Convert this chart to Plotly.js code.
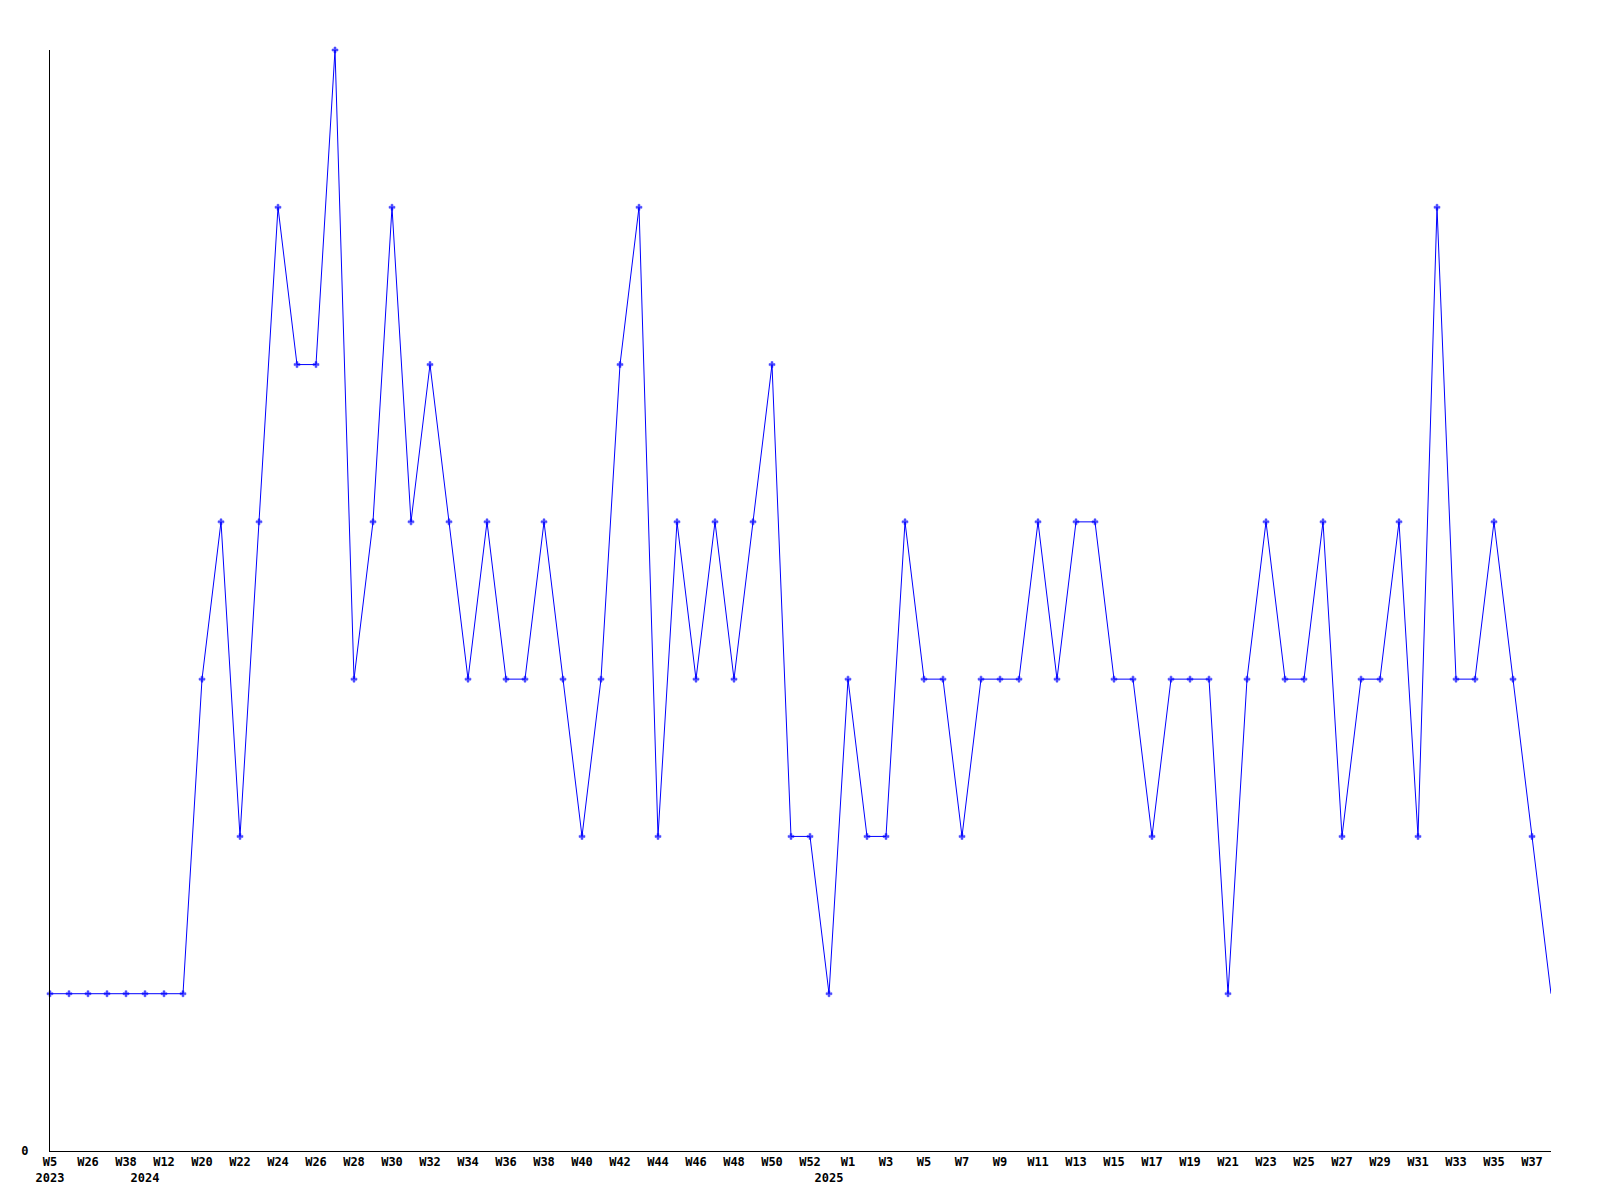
<!DOCTYPE html>
<html>
<head>
<meta charset="utf-8">
<script src="https://cdn.plot.ly/plotly-3.0.1.min.js"></script>
<style>
  html, body { margin: 0; padding: 0; background: #fff; }
  #chart { width: 1600px; height: 1200px; }
</style>
</head>
<body>
<div id="chart"></div>
<script>
// Week categories (unlabelled ones between the sparse early weeks are estimates)
const weeks = [
  '2023-W05','2023-W14','2023-W26','2023-W32','2023-W38','2024-W01','2024-W12','2024-W16',
  '2024-W20','2024-W21','2024-W22','2024-W23','2024-W24','2024-W25','2024-W26','2024-W27',
  '2024-W28','2024-W29','2024-W30','2024-W31','2024-W32','2024-W33','2024-W34','2024-W35',
  '2024-W36','2024-W37','2024-W38','2024-W39','2024-W40','2024-W41','2024-W42','2024-W43',
  '2024-W44','2024-W45','2024-W46','2024-W47','2024-W48','2024-W49','2024-W50','2024-W51',
  '2024-W52','2025-W00','2025-W01','2025-W02','2025-W03','2025-W04','2025-W05','2025-W06',
  '2025-W07','2025-W08','2025-W09','2025-W10','2025-W11','2025-W12','2025-W13','2025-W14',
  '2025-W15','2025-W16','2025-W17','2025-W18','2025-W19','2025-W20','2025-W21','2025-W22',
  '2025-W23','2025-W24','2025-W25','2025-W26','2025-W27','2025-W28','2025-W29','2025-W30',
  '2025-W31','2025-W32','2025-W33','2025-W34','2025-W35','2025-W36','2025-W37','2025-W38'
];

const counts = [
  1,1,1,1,1,1,1,1,
  3,4,2,4,6,5,5,7,
  3,4,6,4,5,4,3,4,
  3,3,4,3,2,3,5,6,
  2,4,3,4,3,4,5,2,
  2,1,3,2,2,4,3,3,
  2,3,3,3,4,3,4,4,
  3,3,2,3,3,3,1,3,
  4,3,3,4,2,3,3,4,
  2,6,3,3,4,3,2,1
];

// Tick positions and their labels (week label, with year on the second line)
const tickCats = [
  '2023-W05','2023-W26','2023-W38','2024-W01','2024-W12','2024-W20','2024-W22','2024-W24',
  '2024-W26','2024-W28','2024-W30','2024-W32','2024-W34','2024-W36','2024-W38','2024-W40',
  '2024-W42','2024-W44','2024-W46','2024-W48','2024-W50','2024-W52','2025-W00','2025-W01',
  '2025-W03','2025-W05','2025-W07','2025-W09','2025-W11','2025-W13','2025-W15','2025-W17',
  '2025-W19','2025-W21','2025-W23','2025-W25','2025-W27','2025-W29','2025-W31','2025-W33',
  '2025-W35','2025-W37'
];
const tickText = [
  'W5<br>2023','W26','W38','<br>2024','W12','W20','W22','W24',
  'W26','W28','W30','W32','W34','W36','W38','W40',
  'W42','W44','W46','W48','W50','W52','<br>2025','W1',
  'W3','W5','W7','W9','W11','W13','W15','W17',
  'W19','W21','W23','W25','W27','W29','W31','W33',
  'W35','W37'
];

const yTickVals = [0];
const yTickText = ['0'];

const markerSizes = counts.map((v, i) => i === counts.length - 1 ? 0 : 5);

const font = { family: 'DejaVu Sans Mono, monospace', size: 12, color: '#000', weight: 'bold' };

const trace = {
  type: 'scatter',
  mode: 'lines+markers',
  x: weeks,
  y: counts,
  line: { color: '#0000ff', width: 1 },
  marker: { color: '#0000ff', symbol: 'cross', size: markerSizes, line: { width: 0.5, color: '#0000ff' } },
  cliponaxis: false,
  hoverinfo: 'x+y'
};

const layout = {
  width: 1600,
  height: 1200,
  margin: { l: 50, r: 49, t: 50, b: 49, pad: 0 },
  paper_bgcolor: '#fff',
  plot_bgcolor: '#fff',
  showlegend: false,
  font: font,
  xaxis: {
    type: 'category',
    range: [0, weeks.length - 1],
    showgrid: false,
    zeroline: false,
    showline: true,
    linecolor: '#000',
    linewidth: 1,
    ticks: '',
    tickmode: 'array',
    tickvals: tickCats,
    ticktext: tickText,
    tickangle: 0,
    tickfont: font,
    ticklabelstandoff: 0,
    automargin: false
  },
  yaxis: {
    range: [0, 7],
    showgrid: false,
    zeroline: false,
    showline: true,
    linecolor: '#000',
    linewidth: 1,
    ticks: '',
    tickmode: 'array',
    tickvals: yTickVals,
    ticktext: yTickText,
    tickfont: font,
    ticklabelstandoff: 18,
    automargin: false
  }
};

Plotly.newPlot('chart', [trace], layout, { staticPlot: true, displayModeBar: false });
</script>
</body>
</html>
